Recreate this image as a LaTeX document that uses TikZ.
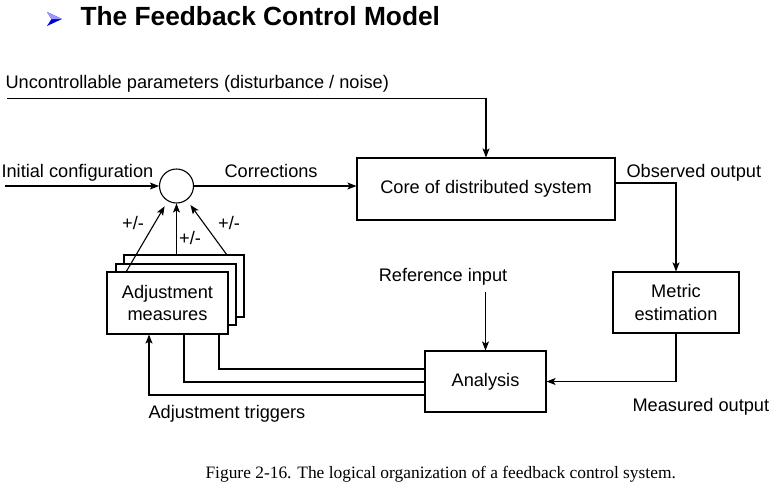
\documentclass[tikz,border=0pt]{standalone}
\usepackage{fontspec}
\setmainfont{Liberation Sans}
\newfontfamily\capfont{Liberation Serif}
\usetikzlibrary{arrows.meta}
\begin{document}
\begin{tikzpicture}[x=1pt,y=-1pt,
  line width=1.1pt,
  dfont/.style={font=\fontsize{18.2}{22.5}\selectfont},
  lbl/.style={dfont,inner sep=0pt},
  boxx/.style={draw,fill=white,dfont,align=center,inner sep=0pt},
  arr/.style={-{Stealth[length=9pt,width=7pt,inset=2pt]}}]
\useasboundingbox (0,0) rectangle (784,483);
% title
\fill[blue!85!black] (47,12) -- (62,19) -- (47,26) -- (51.5,19) -- cycle;
\fill[blue!40!white] (47,12) -- (62,19) -- (51.5,19) -- cycle;
\node[anchor=base west,inner sep=0pt,font=\fontsize{26.3}{30}\selectfont\bfseries] (title) at (80,25) {The Feedback Control Model};
% boxes
\node[boxx,minimum width=258pt,minimum height=62pt] (core) at (486,189) {Core of distributed system};
\node[boxx,minimum width=126pt,minimum height=61pt] (metric) at (676,302.5) {Metric\\estimation};
\node[boxx,minimum width=121pt,minimum height=61pt] (ana) at (485.5,381.5) {Analysis};
\node[boxx,minimum width=120pt,minimum height=62pt] (adj3) at (184,286) {};
\node[boxx,minimum width=120pt,minimum height=61pt] (adj2) at (176,294.5) {};
\node[boxx,minimum width=121pt,minimum height=62pt] (adj) at (167.5,303) {Adjustment\\measures};
\node[draw,circle,minimum size=34pt,inner sep=0pt] (circ) at (176.5,186) {};
% labels
\node[lbl,anchor=base west] (unc) at (5,88) {Uncontrollable parameters (disturbance / noise)};
\node[lbl,anchor=base west] (init) at (1,177) {Initial configuration};
\node[lbl,anchor=base west] (corr) at (224,177) {Corrections};
\node[lbl,anchor=base west] (obs) at (626,177) {Observed output};
\node[lbl,anchor=base] (ref) at (443,281) {Reference input};
\node[lbl,anchor=base west] (trig) at (148,418) {Adjustment triggers};
\node[lbl,anchor=base west] (meas) at (632,411) {Measured output};
\node[lbl] (pm1) at (133,223) {+/-};
\node[lbl] (pm2) at (190,238) {+/-};
\node[lbl] (pm3) at (229,223) {+/-};
% coordinates
\coordinate (uncs) at (7,98.5);
\coordinate (inits) at (5,186);
\coordinate (refs) at (485.5,292);
\coordinate (a1) at (126,272);
\coordinate (a2) at (176.5,255);
\coordinate (a3) at (227,255);
% connectors
\draw[arr] (uncs) -| (core.north);
\draw[arr] (inits) -- (circ.west);
\draw[arr] (circ.east) -- (core.west |- circ.east);
\draw[arr] (core.east |- 0,183) -| (metric.north);
\draw[arr] (metric.south) |- (ana.east);
\draw[arr] (refs) -- (ana.north);
\draw[arr,shorten >=6pt] (a1) -- (circ);
\draw[arr] (a2) -- (circ.south);
\draw[arr,shorten >=6pt] (a3) -- (circ);
\draw (adj.south -| 184,0) |- (ana.west |- 0,382);
\draw (adj.south -| 219,0) |- (ana.west |- 0,369);
\draw[arr] (ana.west |- 0,395) -| (adj.south -| 149,0);
% caption
\node[anchor=base west,inner sep=0pt,font=\capfont\fontsize{17.4}{20}\selectfont] (cap) at (205,478) {Figure 2-16. The logical organization of a feedback control system.};
\end{tikzpicture}
\end{document}
